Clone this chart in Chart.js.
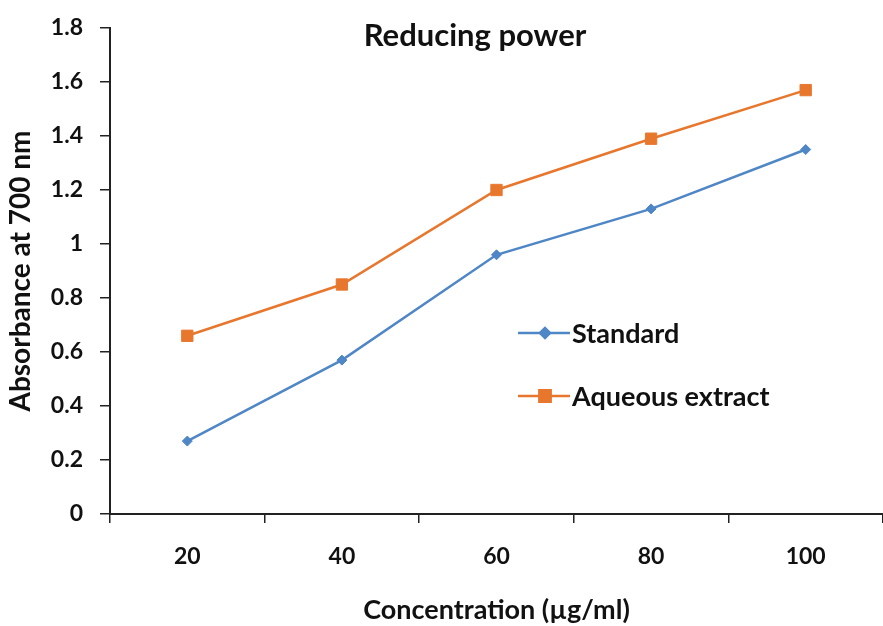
<!DOCTYPE html>
<html>
<head>
<meta charset="utf-8">
<script src="https://cdn.jsdelivr.net/npm/chart.js@4/dist/chart.umd.min.js"></script>
<style>
  html, body { margin: 0; padding: 0; background: #fff; }
  #wrap { width: 883px; height: 626px; position: relative; }
</style>
</head>
<body>
<div id="wrap"><canvas id="c" width="883" height="626"></canvas></div>
<script>
var concentrations = ['20', '40', '60', '80', '100'];
var standardValues = [0.27, 0.57, 0.96, 1.13, 1.35];
var aqueousValues = [0.66, 0.85, 1.20, 1.39, 1.57];
var seriesNames = ['Standard', 'Aqueous extract'];
var chartTitle = 'Reducing power';
var xTitle = 'Concentration (\u00b5g/ml)';
var yTitle = 'Absorbance at 700 nm';

var FONT = 'Lato, "Open Sans", sans-serif';
var blue = '#4F86C6';
var orange = '#E8772E';

// title + legend drawn inside the plot area
var insidePlugin = {
  id: 'inside',
  afterDraw: function(chart) {
    var ctx = chart.ctx;
    ctx.save();
    ctx.fillStyle = '#111';
    ctx.font = 'bold 31px ' + FONT;
    ctx.textAlign = 'center';
    ctx.textBaseline = 'middle';
    ctx.fillText(chartTitle, 475, 36);

    var items = [
      { text: seriesNames[0], color: blue, style: 'rectRot', r: 5, y: 333 },
      { text: seriesNames[1], color: orange, style: 'rect', r: 8, y: 396 }
    ];
    ctx.font = 'bold 27px ' + FONT;
    ctx.textAlign = 'left';
    items.forEach(function(it) {
      ctx.strokeStyle = it.color;
      ctx.lineWidth = 2.5;
      ctx.beginPath();
      ctx.moveTo(518, it.y);
      ctx.lineTo(570, it.y);
      ctx.stroke();
      ctx.fillStyle = it.color;
      Chart.helpers.drawPoint(ctx, { pointStyle: it.style, radius: it.r, borderWidth: 1 }, 545, it.y);
      ctx.fill();
      ctx.fillStyle = '#111';
      ctx.fillText(it.text, 572, it.y + 1);
    });
    ctx.restore();
  }
};

new Chart(document.getElementById('c'), {
  type: 'line',
  data: {
    labels: concentrations,
    datasets: [
      {
        label: seriesNames[0],
        data: standardValues,
        borderColor: blue,
        backgroundColor: blue,
        borderWidth: 2.5,
        pointStyle: 'rectRot',
        pointRadius: 5,
        pointBorderWidth: 1,
        tension: 0
      },
      {
        label: seriesNames[1],
        data: aqueousValues,
        borderColor: orange,
        backgroundColor: orange,
        borderWidth: 2.5,
        pointStyle: 'rect',
        pointRadius: 8,
        pointBorderWidth: 1,
        tension: 0
      }
    ]
  },
  options: {
    responsive: false,
    animation: false,
    layout: { autoPadding: false, padding: { top: 28, right: -4, bottom: 0, left: 0 } },
    plugins: {
      legend: { display: false },
      tooltip: { enabled: false }
    },
    scales: {
      x: {
        offset: true,
        afterFit: function(scale) { scale.paddingLeft = 0; scale.paddingRight = 0; },
        grid: {
          display: true,
          offset: true,
          drawOnChartArea: false,
          drawTicks: true,
          tickLength: 9,
          color: '#222',
          lineWidth: 1.5
        },
        border: { display: true, color: '#222', width: 2 },
        ticks: {
          color: '#111',
          font: { family: FONT, size: 23, weight: 'bold' },
          padding: 20
        },
        title: {
          display: true,
          text: xTitle,
          color: '#111',
          font: { family: FONT, size: 27, weight: 'bold' },
          padding: { top: 3, bottom: 0 }
        }
      },
      y: {
        min: 0,
        max: 1.8,
        afterFit: function(scale) {
          scale.width = 110;
          scale.paddingTop = 0;
          scale.paddingBottom = 0;
        },
        grid: {
          display: true,
          drawOnChartArea: false,
          drawTicks: true,
          tickLength: 10,
          color: '#222',
          lineWidth: 1.5
        },
        border: { display: true, color: '#222', width: 2 },
        ticks: {
          stepSize: 0.2,
          color: '#111',
          font: { family: FONT, size: 23, weight: 'bold' },
          padding: 17,
          callback: function(v) { return Math.round(v * 10) / 10 + ''; }
        },
        title: {
          display: true,
          text: yTitle,
          color: '#111',
          font: { family: FONT, size: 28, weight: 'bold' },
          padding: { top: 4, bottom: 0 }
        }
      }
    }
  },
  plugins: [insidePlugin]
});
</script>
</body>
</html>
